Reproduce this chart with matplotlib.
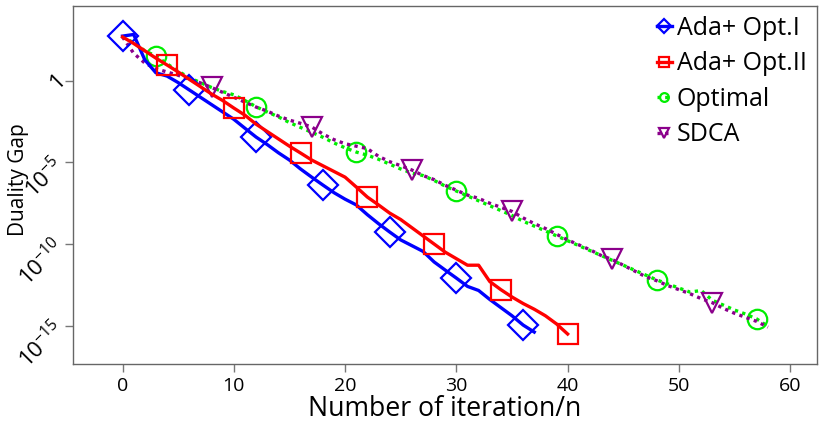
import numpy as np
import matplotlib
matplotlib.use("Agg")
from matplotlib import pyplot as plt

# log10 of duality gap, one value per pass
ada1_log = [2.75, 2.85, 1.3, 0.5, 0.3, -0.1, -0.55, -1.0, -1.45, -1.9, -2.35, -2.9,
            -3.44, -3.9, -4.4, -4.85, -5.4, -5.9, -6.38, -6.85, -7.25, -7.6, -8.2,
            -8.75, -9.26, -9.75, -10.1, -10.45, -11.1, -11.6, -12.09, -12.6, -12.85,
            -13.4, -13.9, -14.4, -14.97, -15.4]
ada2_log = [2.7, 2.3, 1.85, 1.4, 0.98, 0.55, 0.1, -0.35, -0.8, -1.2, -1.66, -2.1,
            -2.65, -3.1, -3.55, -4.0, -4.42, -4.85, -5.2, -5.55, -5.9, -6.5, -7.12,
            -7.6, -8.1, -8.5, -9.0, -9.5, -10.0, -10.5, -10.9, -11.3, -11.3, -12.3,
            -12.8, -13.25, -13.65, -14.0, -14.4, -14.9, -15.52]
opt_log = [2.7, 2.35, 1.85, 1.53, 1.05, 0.6, 0.2, -0.1, -0.4, -0.65, -0.85, -1.2,
           -1.58, -1.9, -2.2, -2.55, -2.85, -3.15, -3.45, -3.8, -4.1, -4.36, -4.55,
           -4.8, -5.1, -5.4, -5.65, -5.8, -6.1, -6.45, -6.75, -7.05, -7.35, -7.65,
           -7.95, -8.25, -8.6, -8.9, -9.2, -9.5, -9.8, -10.1, -10.4, -10.7, -11.0,
           -11.3, -11.6, -11.9, -12.2, -12.45, -12.7, -12.95, -12.85, -13.45, -13.75,
           -14.05, -14.3, -14.6, -15.05]
sdca_log = [2.7, 1.7, 1.1, 0.75, 0.55, 0.35, 0.1, -0.12, -0.4, -0.7, -1.0, -1.3,
            -1.6, -1.85, -2.15, -2.4, -2.6, -2.82, -3.25, -3.6, -3.85, -4.0, -4.15,
            -4.62, -4.95, -5.2, -5.46, -5.8, -6.05, -6.4, -6.7, -7.0, -7.2, -7.5,
            -7.75, -8.0, -8.4, -8.75, -9.05, -9.4, -9.75, -10.05, -10.35, -10.7,
            -10.95, -11.3, -11.65, -12.0, -12.25, -12.55, -12.8, -13.05, -13.35,
            -13.6, -13.95, -14.25, -14.5, -14.75, -15.1]

labels = ['Ada+ Opt.I', 'Ada+ Opt.II', 'Optimal', 'SDCA']
yticks = [1, 1e-5, 1e-10, 1e-15]
ytick_labels = ['$1$', '$10^{-5}$', '$10^{-10}$', '$10^{-15}$']
xticks = [0, 10, 20, 30, 40, 50, 60]

plt.rcParams['font.family'] = ['Open Sans', 'DejaVu Sans']
plt.rcParams['mathtext.fontset'] = 'custom'
plt.rcParams['mathtext.rm'] = 'Open Sans'
plt.rcParams['mathtext.it'] = 'Open Sans'

fig = plt.figure(figsize=(8.22, 4.25), dpi=100)
ax = fig.add_axes([0.0888, 0.1435, 0.905, 0.8425])

def curve(logs):
    logs = np.array(logs)
    return np.arange(len(logs)), 10.0 ** logs

dots = (0, (1, 1.3))
x, y = curve(opt_log)
ax.plot(x, y, color='#00ee00', lw=2.4, ls=dots, marker='o', ms=14, mfc='none',
        mew=1.6, markevery=(3, 9), label=labels[2])
x, y = curve(sdca_log)
ax.plot(x, y, color='#8b008b', lw=2.4, ls=dots, marker='v', ms=15, mfc='none',
        mew=1.6, markevery=(8, 9), label=labels[3])
x, y = curve(ada1_log)
ax.plot(x, y, color='#0000ff', lw=2.4, marker='D', ms=15, mfc='none',
        mew=1.6, markevery=(0, 6), label=labels[0])
x, y = curve(ada2_log)
ax.plot(x, y, color='#ff0000', lw=2.4, marker='s', ms=15, mfc='none',
        mew=1.6, markevery=(4, 6), label=labels[1])

ax.set_yscale('log')
ax.set_xlim(-4.45, 62.4)
ax.set_ylim(10 ** -17.36, 10 ** 4.6)
ax.set_yticks(yticks)
ax.set_yticklabels(ytick_labels, rotation=45, ha='right', va='center',
                   rotation_mode='anchor', fontsize=16)
ax.yaxis.set_minor_locator(matplotlib.ticker.NullLocator())
ax.set_xticks(xticks)
ax.tick_params(axis='x', labelsize=14)
ax.tick_params(color='#777777', length=6, width=1)
ax.tick_params(axis='y', pad=3)
for s in ax.spines.values():
    s.set_color('#666666')
    s.set_linewidth(1.0)

ax.set_xlabel('Number of iteration/n', fontsize=19.2, labelpad=0)
ax.set_ylabel('Duality Gap', fontsize=15)
ax.yaxis.set_label_coords(-0.059, 0.514)

handles, labs = ax.get_legend_handles_labels()
order = [2, 3, 0, 1]
h = [handles[i] for i in order]
l = [labs[i] for i in order]
leg = ax.legend(h, l, loc='upper right', frameon=False, fontsize=18,
                handlelength=0.6, handletextpad=0.2, markerscale=0.45,
                labelspacing=0.42, borderaxespad=0.0)

fig.savefig('out.png', dpi=100)
